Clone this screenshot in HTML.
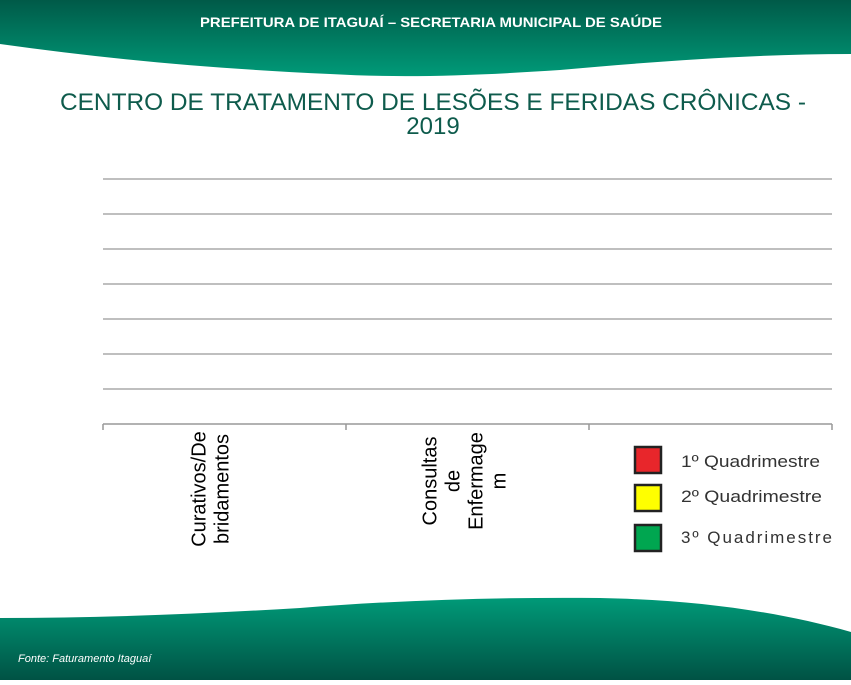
<!DOCTYPE html>
<html><head><meta charset="utf-8"><style>
body{margin:0;width:851px;height:680px;overflow:hidden;background:#fff;font-family:"Liberation Sans",sans-serif}
</style></head><body>
<svg width="851" height="680">
<defs>
<linearGradient id="gt" x1="0" y1="0" x2="0" y2="1"><stop offset="0" stop-color="#005a48"/><stop offset="1" stop-color="#009a78"/></linearGradient>
<linearGradient id="gb" x1="0" y1="0" x2="0" y2="1"><stop offset="0" stop-color="#009a78"/><stop offset="1" stop-color="#005244"/></linearGradient>
</defs>
<path d="M0,0H851V54C750,54 650,62 560,70 C470,76 400,78 330,74 C200,68 100,58 0,44Z" fill="url(#gt)"/>
<text x="431" y="27" text-anchor="middle" font-size="14" font-weight="bold" fill="#fff" textLength="462" lengthAdjust="spacingAndGlyphs">PREFEITURA DE ITAGUAÍ – SECRETARIA MUNICIPAL DE SAÚDE</text>
<path d="M0,618C100,618 200,614 300,608 C400,600 500,597 600,598 C700,600 780,612 851,632V680H0Z" fill="url(#gb)"/>
<text x="18" y="662" font-size="11" font-style="italic" fill="#fff">Fonte: Faturamento Itaguaí</text>
<text font-size="24" fill="#0e5b4c" text-anchor="middle"><tspan x="433" y="110" textLength="746" lengthAdjust="spacingAndGlyphs">CENTRO DE TRATAMENTO DE LESÕES E FERIDAS CRÔNICAS -</tspan><tspan x="433" y="134">2019</tspan></text>
<g id="chart"></g>
<g>
<rect x="635" y="447" width="26" height="26" fill="#e8262b" stroke="#222" stroke-width="2.5"/>
<text x="681" y="467" font-size="17" fill="#333" textLength="139" lengthAdjust="spacingAndGlyphs">1º Quadrimestre</text>
<rect x="635" y="485" width="26" height="26" fill="#ffff00" stroke="#222" stroke-width="2.5"/>
<text x="681" y="502" font-size="17" fill="#333" textLength="141" lengthAdjust="spacingAndGlyphs">2º Quadrimestre</text>
<rect x="635" y="525" width="26" height="26" fill="#00a650" stroke="#222" stroke-width="2.5"/>
<text x="681" y="543" font-size="17" fill="#333" textLength="151" lengthAdjust="spacing">3º Quadrimestre</text>
</g>
</svg>
<script>
const categories=["Curativos/Debridamentos","Consultas de Enfermagem",""];
const catLabelLines=[["Curativos/De","bridamentos"],["Consultas","de","Enfermage","m"],[]];
const q1=[0,0,0];
const q2=[0,0,0];
const q3=[0,0,0];
const yTicks=[0,1,2,3,4,5,6,7];
const NS="http://www.w3.org/2000/svg";
const g=document.getElementById('chart');
const x0=103,x1=832,yb=424,yt=179;
const yMax=yTicks[yTicks.length-1];
const ys=v=>yb-(v/yMax)*(yb-yt);
const bw=(x1-x0)/categories.length;
function mk(t,a){const e=document.createElementNS(NS,t);for(const k in a)e.setAttribute(k,a[k]);g.appendChild(e);return e;}
yTicks.forEach((t,i)=>{const l=mk('line',{x1:x0,x2:x1,y1:ys(t),y2:ys(t),stroke:i==0?'#999':'#aaa','stroke-width':1.5});

});
for(let i=0;i<=categories.length;i++){const l=mk('line',{x1:x0+i*bw,x2:x0+i*bw,y1:yb,y2:yb+6,stroke:'#999','stroke-width':1.5});

}
const series=[q1,q2,q3],cols=['#e8262b','#ffff00','#00a650'];
const labelCenters=[[211,489],[465,481]];
categories.forEach((c,i)=>{series.forEach((s,j)=>{const h=yb-ys(s[i]);if(h<=0)return;
const r=mk('rect',{x:x0+i*bw+bw*0.2+j*bw*0.2,y:ys(s[i]),width:bw*0.2,height:h,fill:cols[j]});

});
const lines=catLabelLines[i];const lc=labelCenters[i];if(!lc)return;
lines.forEach((ln,k)=>{const t=mk('text',{transform:`translate(${lc[0]-(lines.length-1)*11.5+k*23+6},${lc[1]}) rotate(-90)`,'font-size':20,fill:'#000','text-anchor':'middle'});


t.textContent=ln;});
});
</script>
</body></html>
